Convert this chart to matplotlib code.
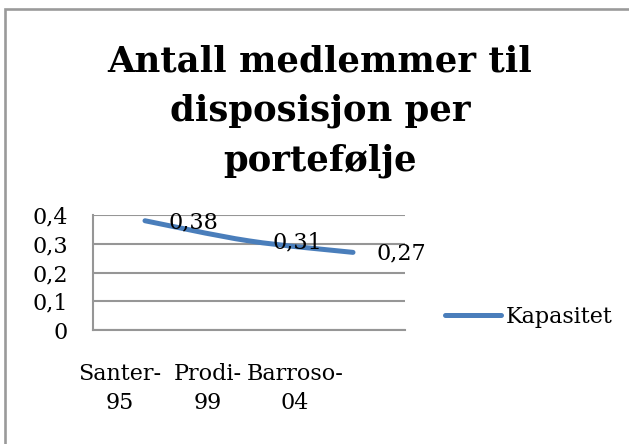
import numpy as np
import matplotlib
matplotlib.use("Agg")
import matplotlib.pyplot as plt
from matplotlib.path import Path
from matplotlib.patches import PathPatch, Rectangle
from matplotlib.lines import Line2D

# data
categories = ["Santer-\n95", "Prodi-\n99", "Barroso-\n04"]
values = [0.38, 0.31, 0.27]
value_labels = ["0,38", "0,31", "0,27"]
series_name = "Kapasitet"
y_ticks = [0, 0.1, 0.2, 0.3, 0.4]
y_tick_labels = ["0", "0,1", "0,2", "0,3", "0,4"]
title_lines = ["Antall medlemmer til", "disposisjon per", "portefølje"]

LINE_COLOR = "#4A7EBB"
GRID_COLOR = "#969696"
SERIF = "DejaVu Serif"

W, H = 629, 444
fig = plt.figure(figsize=(W / 100, H / 100), dpi=100)
fig.patch.set_facecolor("white")

# outer chart frame (only left and top visible inside the crop)
fig.patches.append(Rectangle((4.5 / W, -0.5), 2.0, 0.5 + (H - 9) / H,
                             transform=fig.transFigure, fill=False,
                             edgecolor="#9A9A9A", linewidth=1.9))

# title, one line at a time
for i, line in enumerate(title_lines):
    fig.text(320 / W, 1 - (72 + 49 * i) / H, line, ha="center", va="baseline",
             fontsize=25.5, fontweight="bold", family=SERIF)

ax = fig.add_axes([93 / W, (H - 330) / H, 312 / W, 115 / H])
x = np.arange(len(values))
y = np.array(values)

# smoothed line through the points (Catmull-Rom as bezier)
pts = np.column_stack([x, y])
ext = np.vstack([pts[0], pts, pts[-1]])
verts = [pts[0]]
codes = [Path.MOVETO]
for i in range(len(pts) - 1):
    p0, p1, p2, p3 = ext[i], ext[i + 1], ext[i + 2], ext[i + 3]
    verts += [p1 + (p2 - p0) / 6, p2 - (p3 - p1) / 6, p2]
    codes += [Path.CURVE4] * 3
ax.add_patch(PathPatch(Path(verts, codes), fill=False, edgecolor=LINE_COLOR,
                       linewidth=3.6, capstyle="round", zorder=3))

for xi, yi, lab in zip(x, y, value_labels):
    ax.annotate(lab, (xi, yi), xytext=(17, -1), textcoords="offset points",
                ha="left", va="center", fontsize=16, family=SERIF, zorder=4)

ax.set_xlim(-0.5, len(values) - 0.5)
ax.set_ylim(0, 0.4)
ax.set_yticks(y_ticks)
ax.set_yticklabels(y_tick_labels, family=SERIF, fontsize=16)
ax.set_xticks(x * 0.84 - 0.24)
ax.set_xticklabels(categories, family=SERIF, fontsize=16, linespacing=1.4)
ax.tick_params(axis="both", length=0)
ax.tick_params(axis="y", pad=18)
ax.tick_params(axis="x", pad=24)
ax.grid(axis="y", color=GRID_COLOR, linewidth=1.5)
ax.set_axisbelow(True)
for side in ["top", "right"]:
    ax.spines[side].set_visible(False)
for side in ["left", "bottom"]:
    ax.spines[side].set_color(GRID_COLOR)
    ax.spines[side].set_linewidth(1.5)

handle = Line2D([], [], color=LINE_COLOR, linewidth=3.6, solid_capstyle="round")
fig.legend([handle], [series_name], loc="center left",
           bbox_to_anchor=(445 / W, 1 - 317 / H), frameon=False,
           borderpad=0, borderaxespad=0, handlelength=2.5, handletextpad=0.25,
           prop={"family": SERIF, "size": 16})

fig.savefig("out.png", dpi=100)
